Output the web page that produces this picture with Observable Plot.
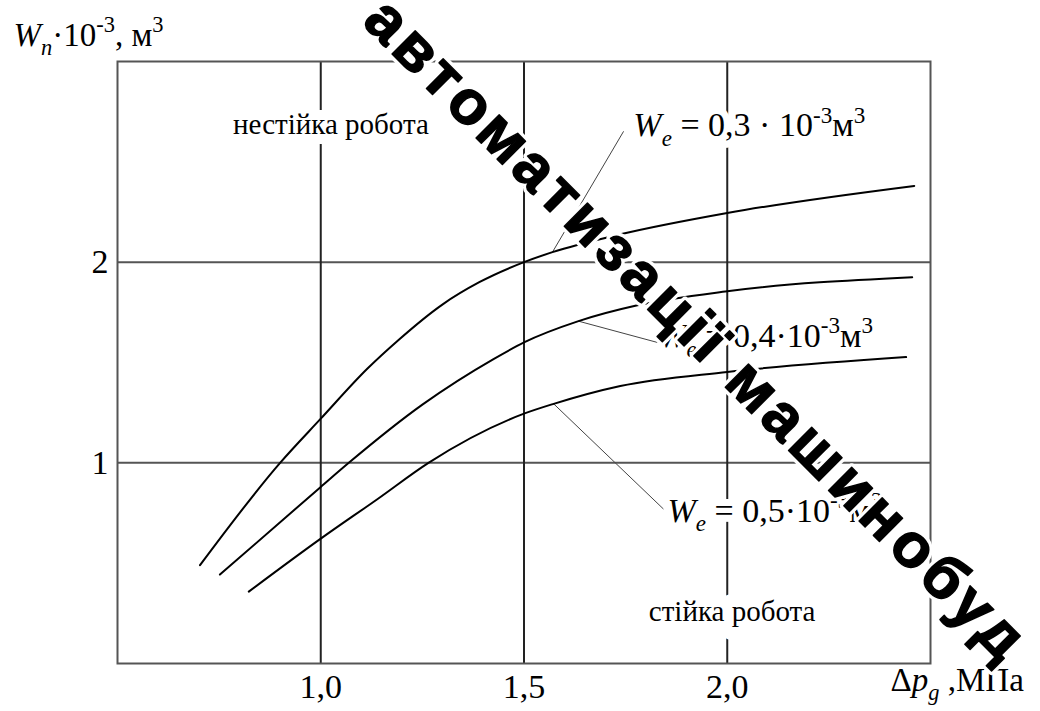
<!DOCTYPE html>
<html>
<head>
<meta charset="utf-8">
<script src="https://cdn.jsdelivr.net/npm/d3@7"></script>
<script src="https://cdn.jsdelivr.net/npm/@observablehq/plot@0.6"></script>
<style>
  body { margin: 0; background: #fff; }
  #chart { position: relative; width: 1040px; height: 711px; overflow: hidden; }
  #chart svg:not(.stamp) text { white-space: pre; font-family: "Liberation Serif", "Times New Roman", serif !important; }
  #chart svg.stamp { position: absolute; left: 0; top: 0; pointer-events: none; }
</style>
</head>
<body>
<div id="chart"></div>
<script>
// Pressure drop Δp_g (MPa) and the resulting volume W_n (10^-3 m^3),
// one curve per volume W_e.
const dp03 = [0.703, 0.90, 1.00, 1.115, 1.19, 1.30, 1.39, 1.50, 1.57, 1.74, 2.00, 2.46];
const wn03 = [0.49, 1.00, 1.22, 1.47, 1.61, 1.79, 1.90, 2.00, 2.05, 2.14, 2.245, 2.38];

const dp04 = [0.752, 1.00, 1.069, 1.25, 1.425, 1.50, 1.634, 1.779, 2.00, 2.455];
const wn04 = [0.443, 0.88, 1.00, 1.29, 1.517, 1.60, 1.706, 1.785, 1.855, 1.925];

const dp05 = [0.823, 1.00, 1.14, 1.265, 1.50, 1.573, 1.737, 2.00, 2.44];
const wn05 = [0.358, 0.622, 0.82, 1.00, 1.245, 1.294, 1.383, 1.453, 1.527];

// Curve labels and their leader lines
const curveLabels = ["*W*_{*e*} = 0,3 · 10^{-3}м^{3}", "*W*_{*e*} = 0,4·10^{-3}м^{3}", "*W*_{*e*} = 0,5·10^{-3}м^{3}"];
const labelX = [1.769, 1.830, 1.853];
const labelY = [2.627, 1.577, 0.706];
const leaderFromX = [1.57, 1.634, 1.573];
const leaderFromY = [2.05, 1.706, 1.294];
const leaderToX = [1.745, 1.828, 1.843];
const leaderToY = [2.652, 1.600, 0.770];

// Region captions
const regionText = ["нестійка робота", "стійка робота"];
const regionX = [1.025, 2.012];
const regionY = [2.637, 0.214];

// Axes
const xTicks = [1.0, 1.5, 2.0];
const yTicks = [1, 2];
const xLabel = "Δ*p*_{*g*} ,МПа";
const yLabel = "*W*_{*n*}·10^{-3}, м^{3}";
const stampText = "автоматизації машинобуд";

const curves = [
  {dp: dp03, wn: wn03, key: "0.3"},
  {dp: dp04, wn: wn04, key: "0.4"},
  {dp: dp05, wn: wn05, key: "0.5"}
].flatMap(c => c.dp.map((x, i) => ({x, y: c.wn[i], key: c.key})));

const labels = curveLabels.map((text, i) => ({text, x: labelX[i], y: labelY[i]}));
const leaders = leaderFromX.map((x1, i) => ({x1, y1: leaderFromY[i], x2: leaderToX[i], y2: leaderToY[i]}));
const regions = regionText.map((text, i) => ({text, x: regionX[i], y: regionY[i]}));

// white knock-out under a caption (interrupts the grid), then the caption itself
const knockout = (data, fontSize, textAnchor, width) => [
  Plot.text(data, {x: "x", y: "y", text: "text", fontSize, lineAnchor: "bottom", textAnchor,
    fill: "#fff", stroke: "#fff", strokeWidth: width}),
  Plot.text(data, {x: "x", y: "y", text: "text", fontSize, lineAnchor: "bottom", textAnchor, fill: "#000"})
];

const chart = Plot.plot({
  width: 1040,
  height: 711,
  marginLeft: 117,
  marginRight: 110,
  marginTop: 61,
  marginBottom: 48,
  style: {fontFamily: "'Liberation Serif', 'Times New Roman', serif", fontSize: "34px", background: "#fff", color: "#000"},
  x: {domain: [0.5, 2.5], label: null},
  y: {domain: [0, 3], label: null},
  marks: [
    Plot.gridY(yTicks, {stroke: "#555", strokeOpacity: 1, strokeWidth: 2}),
    Plot.gridX(xTicks, {stroke: "#222", strokeOpacity: 1, strokeWidth: 2}),
    Plot.frame({stroke: "#555", strokeWidth: 2}),
    Plot.axisX({ticks: xTicks, tickSize: 0, tickPadding: 10, fontSize: 34,
      tickFormat: d => d.toFixed(1).replace(".", ","), label: null}),
    Plot.axisY({ticks: yTicks, tickSize: 0, tickPadding: 9, fontSize: 34,
      tickFormat: d => String(d), label: null}),
    ...knockout(regions.slice(0, 1), 29, "middle", 20),
    ...knockout(regions.slice(1), 29, "middle", 26),
    ...knockout(labels, 34, "start", 14),
    // leader lines and curves
    Plot.link(leaders, {x1: "x1", y1: "y1", x2: "x2", y2: "y2", stroke: "#444", strokeWidth: 1}),
    Plot.line(curves, {x: "x", y: "y", z: "key", stroke: "#000", strokeWidth: 2, curve: "monotone-x"}),
    // axis titles
    Plot.text([yLabel], {frameAnchor: "top-left", text: d => d, dx: -104, dy: -16, fontSize: 33,
      lineAnchor: "bottom", textAnchor: "start", fill: "#000"}),
    Plot.text([xLabel], {frameAnchor: "bottom-right", text: d => d, dx: -40, dy: 27, fontSize: 33,
      lineAnchor: "bottom", textAnchor: "start", fill: "#000"})
  ]
});

const host = document.getElementById("chart");
host.appendChild(chart);

// Turn the light markup (*italic*, _{sub}, ^{sup}) into tspans.
function segments(s) {
  const out = [];
  const re = /_\{([^}]*)\}|\^\{([^}]*)\}|\*([^*]*)\*|([^_^*]+)/g;
  let m;
  while ((m = re.exec(s))) {
    if (m[1] != null) for (const t of segments(m[1])) out.push({...t, shift: "sub"});
    else if (m[2] != null) for (const t of segments(m[2])) out.push({...t, shift: "sup"});
    else if (m[3] != null) out.push({text: m[3], italic: true, shift: "base"});
    else out.push({text: m[4], italic: false, shift: "base"});
  }
  return out;
}

chart.querySelectorAll("text").forEach(el => {
  const s = el.textContent;
  if (!/\*|_\{|\^\{/.test(s)) return;
  const size = parseFloat(getComputedStyle(el).fontSize);
  el.textContent = "";
  let level = 0;
  for (const seg of segments(s)) {
    const target = seg.shift === "sub" ? size * 0.28 : seg.shift === "sup" ? -size * 0.4 : 0;
    const t = document.createElementNS("http://www.w3.org/2000/svg", "tspan");
    if (target !== level) t.setAttribute("dy", target - level);
    level = target;
    if (seg.shift !== "base") t.setAttribute("font-size", size * 0.68);
    if (seg.italic) t.setAttribute("font-style", "italic");
    t.textContent = seg.text;
    el.appendChild(t);
  }
});

// Diagonal publisher stamp across the figure: white outline, then heavy black letters
const stamp = d3.select(host).append("svg")
  .attr("class", "stamp")
  .attr("width", 1040)
  .attr("height", 711);
const stampG = stamp.append("g")
  .attr("transform", "translate(361,23) rotate(45)")
  .attr("font-family", "'Liberation Sans', Arial, sans-serif")
  .attr("font-weight", "bold")
  .attr("font-size", 62)
  .attr("letter-spacing", 5)
  .attr("stroke-linejoin", "round");
stampG.append("text")
  .attr("fill", "#fff")
  .attr("stroke", "#fff")
  .attr("stroke-width", 8)
  .text(stampText);
stampG.append("text")
  .attr("fill", "#000")
  .attr("stroke", "#000")
  .attr("stroke-width", 1.5)
  .text(stampText);
</script>
</body>
</html>
